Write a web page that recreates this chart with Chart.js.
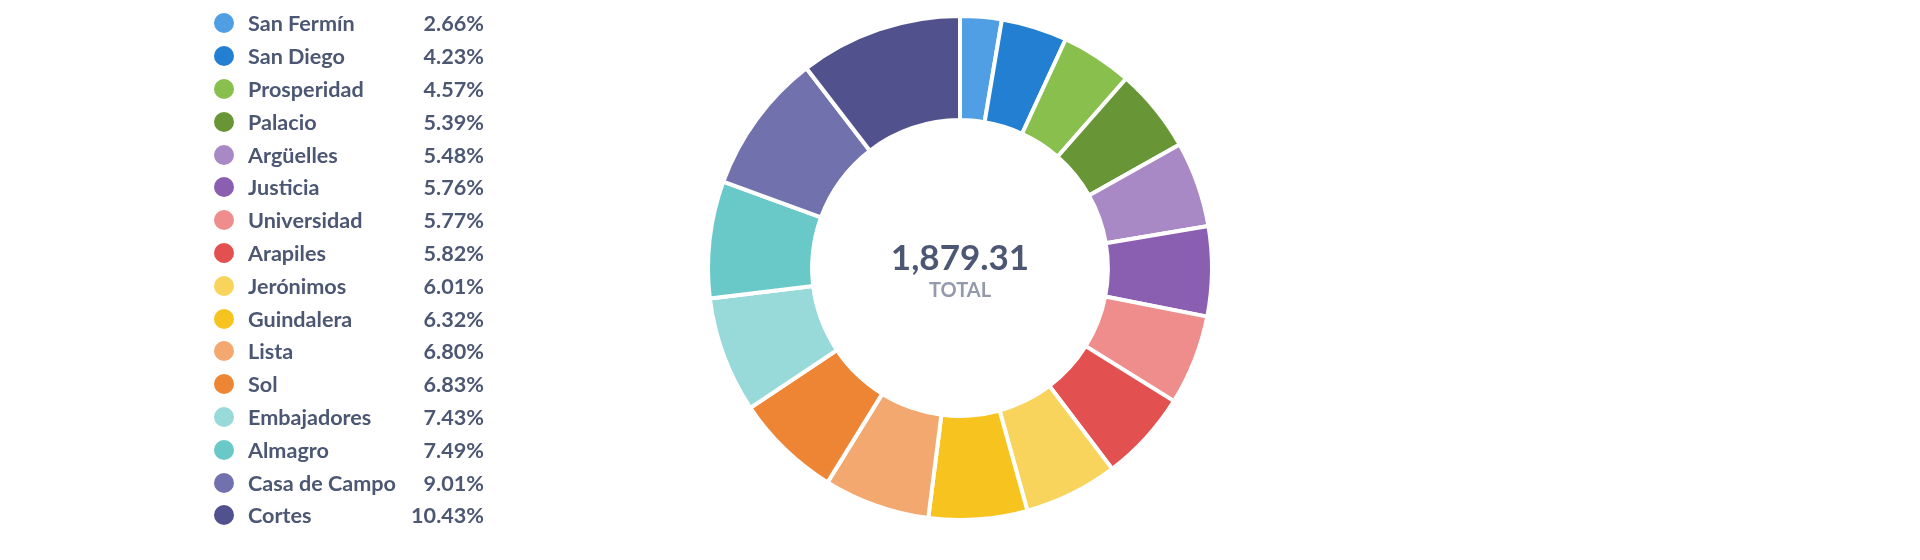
<!DOCTYPE html>
<html>
<head>
<meta charset="utf-8">
<script src="https://cdn.jsdelivr.net/npm/chart.js@4"></script>
<style>
  html, body { margin: 0; padding: 0; background: #fff; }
  body { width: 1920px; height: 560px; position: relative; overflow: hidden; font-family: Lato, "Open Sans", sans-serif; }
  #wrap { position: absolute; left: 0; top: 0; width: 1920px; height: 560px; }
  #legend { position: absolute; left: 214px; top: 7px; width: 270px; }
  .row { display: flex; align-items: center; height: 32.8px; color: #4C5773; font-size: 21.6px; font-weight: 700; }
  .dot { width: 20px; height: 20px; border-radius: 50%; margin-right: 14px; flex: none; }
  .name { flex: 1; }
  .pct { text-align: right; }
</style>
</head>
<body>
<div id="wrap"><canvas id="donut"></canvas></div>
<div id="legend"></div>
<script>
  // ── data ──
  const labels = ['San Fermín', 'San Diego', 'Prosperidad', 'Palacio', 'Argüelles', 'Justicia',
    'Universidad', 'Arapiles', 'Jerónimos', 'Guindalera', 'Lista', 'Sol',
    'Embajadores', 'Almagro', 'Casa de Campo', 'Cortes'];
  const shares = [2.66, 4.23, 4.57, 5.39, 5.48, 5.76, 5.77, 5.82, 6.01, 6.32, 6.80, 6.83, 7.43, 7.49, 9.01, 10.43];
  const totalValue = 1879.31;
  const colors = ['#509EE3', '#227FD2', '#88BF4D', '#689636', '#A989C5', '#8A5EB0',
    '#EF8C8C', '#E35050', '#F9D45C', '#F7C41F', '#F2A86F', '#ED8535',
    '#98D9D9', '#69C8C8', '#7172AD', '#51528D'];

  // ── legend ──
  const legend = document.getElementById('legend');
  labels.forEach((name, i) => {
    const row = document.createElement('div');
    row.className = 'row';
    row.innerHTML = '<span class="dot" style="background:' + colors[i] + '"></span>' +
      '<span class="name">' + name + '</span>' +
      '<span class="pct">' + shares[i].toFixed(2) + '%</span>';
    legend.appendChild(row);
  });

  // ── center label ──
  const centerText = {
    id: 'centerText',
    afterDraw(chart) {
      const ctx = chart.ctx;
      const arc = chart.getDatasetMeta(0).data[0];
      const x = arc.x, y = arc.y;
      ctx.save();
      ctx.textAlign = 'center';
      ctx.textBaseline = 'middle';
      ctx.fillStyle = '#4C5773';
      ctx.font = '700 35px Lato';
      ctx.fillText(totalValue.toLocaleString('en-US', { minimumFractionDigits: 2 }), x, y - 9);
      ctx.fillStyle = '#949AAB';
      ctx.font = '700 20px Lato';
      ctx.fillText('TOTAL', x, y + 23);
      ctx.restore();
    }
  };

  new Chart(document.getElementById('donut').getContext('2d'), {
    type: 'doughnut',
    data: {
      labels: labels,
      datasets: [{
        data: shares,
        backgroundColor: colors,
        borderColor: '#fff',
        borderWidth: 4
      }]
    },
    options: {
      responsive: true,
      maintainAspectRatio: false,
      animation: false,
      radius: 252,
      cutout: '58.7%',
      layout: { padding: { bottom: 24 } },
      plugins: { legend: { display: false }, tooltip: { enabled: false } }
    },
    plugins: [centerText]
  });
</script>
</body>
</html>
